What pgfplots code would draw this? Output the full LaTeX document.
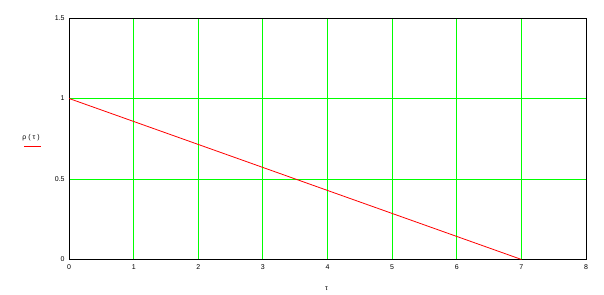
\documentclass[border=0pt]{standalone}
\usepackage{pgfplots}
\pgfplotsset{compat=1.18}
\usepackage{fontspec}
\setmainfont{Liberation Sans}
\definecolor{gridgreen}{RGB}{0,255,0}
\definecolor{linered}{RGB}{255,0,0}
\begin{document}
\begin{tikzpicture}
\path[use as bounding box] (-69bp,-35bp) rectangle (534bp,259bp);
\begin{axis}[
  at={(0,0)}, anchor=south west,
  scale only axis,
  width=516bp, height=241bp,
  xmin=0, xmax=8, ymin=0, ymax=1.5,
  xtick={0,1,...,8},
  ytick={0,0.5,1,1.5},
  yticklabels={0,0.5,1,1.5},
  grid=major,
  major grid style={gridgreen, line width=0.9bp},
  major tick length=0pt,
  axis line style={black, line width=0.9bp},
  tick label style={font=\fontsize{7}{8}\selectfont},
  /pgf/number format/assume math mode=true,
  xticklabel style={yshift=-2bp},
  yticklabel style={xshift=-1bp},
  axis on top=false,
]
\addplot[linered, line width=0.8bp] coordinates {(0,1) (7,0)};
\end{axis}
\node[font=\fontsize{7}{8}\selectfont] at (257bp,-29bp) {τ};
\node[font=\fontsize{7}{8}\selectfont] at (-38bp,122bp) {ρ ( τ )};
\draw[linered, line width=0.8bp] (-45bp,113bp) -- (-28bp,113bp);
\end{tikzpicture}
\end{document}
